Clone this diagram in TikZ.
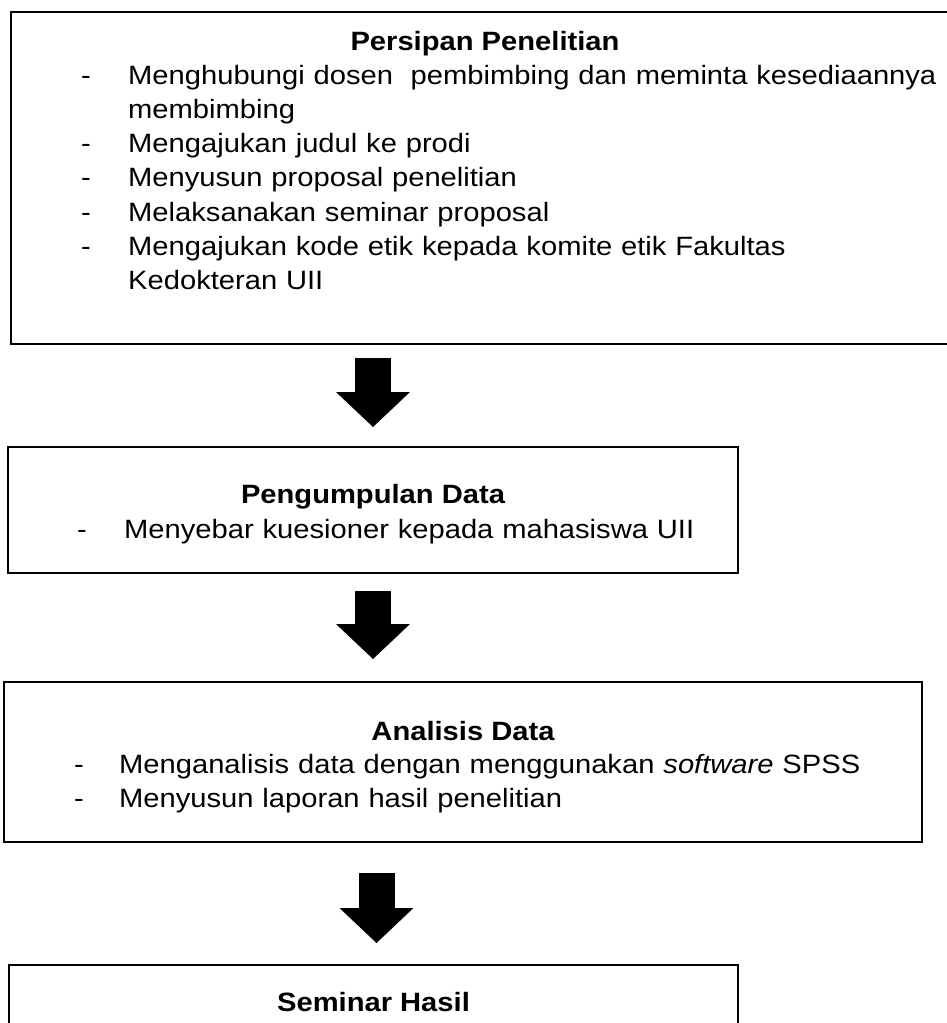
\documentclass[tikz,border=0pt]{standalone}
\usepackage{fontspec}
\setmainfont[FakeStretch=1.1]{Liberation Sans}
\usetikzlibrary{arrows.meta}
\tikzstyle{kotak} = [rectangle, anchor=north west, inner sep=0pt, outer sep=0pt, draw=black, line width=2.7pt]
\tikzstyle{judul} = [anchor=base, inner sep=0pt, font=\fontsize{26.5}{34.3}\selectfont\bfseries]
\tikzstyle{isi} = [anchor=base west, inner sep=0pt, text width=870pt, align=left, font=\fontsize{26.5}{34.3}\selectfont]
\tikzstyle{panah} = [line width=36pt, -{Triangle[width=74pt, length=35pt, line width=0pt]}]
\newcommand{\butir}[2][47pt]{\hangindent=#1\hangafter=1\noindent\makebox[#1][l]{-}#2\par}

\begin{document}
\begin{tikzpicture}[x=1pt, y=1pt]
\useasboundingbox (0,0) rectangle (947,-1023);
\clip (0,0) rectangle (947,-1023);

% Kotak
\node (persiapan) [kotak, minimum width=948pt, minimum height=332pt] at (11,-12) {};
\node (pengumpulan) [kotak, minimum width=730pt, minimum height=126pt] at (8,-447) {};
\node (analisis) [kotak, minimum width=918pt, minimum height=160pt] at (4,-682) {};
\node (seminar) [kotak, minimum width=729pt, minimum height=110pt] at (9,-965) {};

% Teks
\node (judulpersiapan) [judul, yshift=-38pt] at (persiapan.north) {Persipan Penelitian};
\node (isipersiapan) [isi, xshift=70pt, yshift=-72pt] at (persiapan.north west) {%
\butir{Menghubungi dosen\ \ pembimbing dan meminta kesediaannya\newline membimbing}
\butir{Mengajukan judul ke prodi}
\butir{Menyusun proposal penelitian}
\butir{Melaksanakan seminar proposal}
\butir{Mengajukan kode etik kepada komite etik Fakultas\newline Kedokteran UII}};
\node (judulpengumpulan) [judul, yshift=-56pt] at (pengumpulan.north) {Pengumpulan Data};
\node (isipengumpulan) [isi, xshift=69pt, yshift=-91pt] at (pengumpulan.north west) {%
\butir{Menyebar kuesioner kepada mahasiswa UII}};
\node (judulanalisis) [judul, yshift=-58pt] at (analisis.north) {Analisis Data};
\node (isianalisis) [isi, xshift=70pt, yshift=-91pt] at (analisis.north west) {%
\butir[45pt]{Menganalisis data dengan menggunakan \textit{software} SPSS}
\butir[45pt]{Menyusun laporan hasil penelitian}};
\node (judulseminar) [judul, yshift=-46pt] at (seminar.north) {Seminar Hasil};

% Panah
\draw [panah, shorten <=14pt, shorten >=20pt] (persiapan.south -| pengumpulan.north) -- (pengumpulan.north);
\draw [panah, shorten <=18pt, shorten >=23pt] (pengumpulan.south) -- (analisis.north -| pengumpulan.south);
\draw [panah, shorten <=31pt, shorten >=22pt] ([xshift=3pt]analisis.south -| seminar.north) -- ([xshift=3pt]seminar.north);

\end{tikzpicture}
\end{document}
